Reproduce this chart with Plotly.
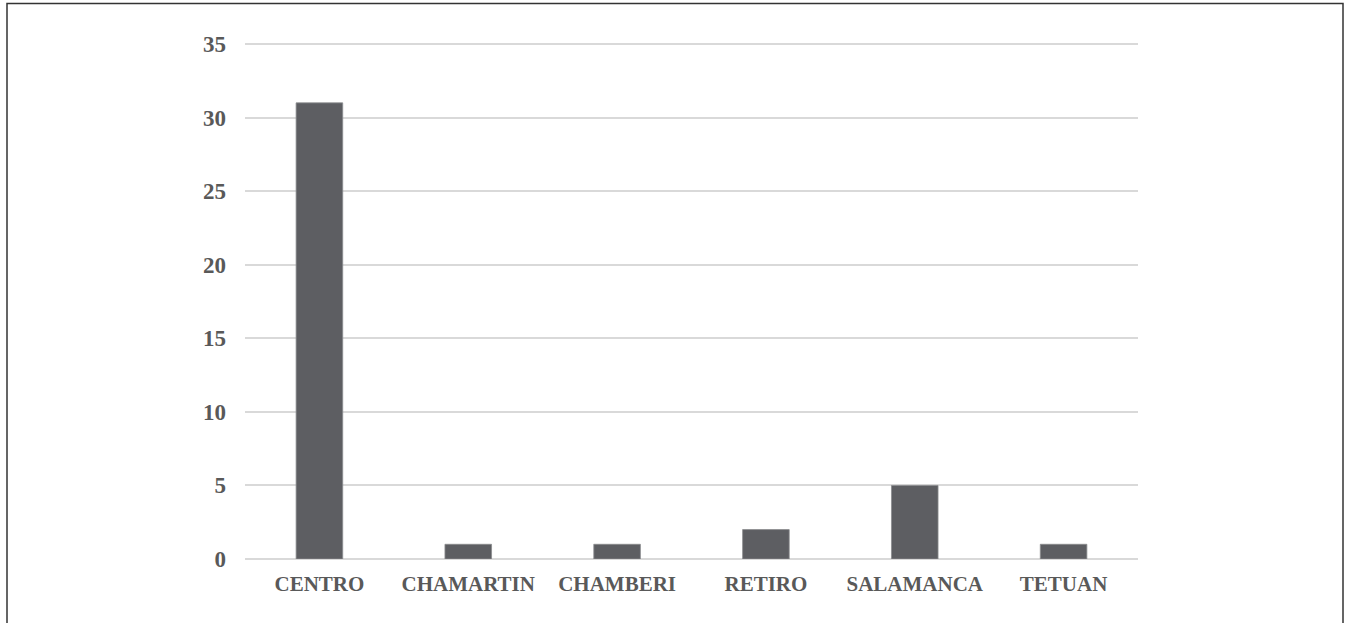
import plotly.graph_objects as go

categories = ["CENTRO", "CHAMARTIN", "CHAMBERI", "RETIRO", "SALAMANCA", "TETUAN"]
values = [31, 1, 1, 2, 5, 1]
y_ticks = [0, 5, 10, 15, 20, 25, 30, 35]

W, H = 1346, 623
L, R, T, B = 245, 208, 41, 64
pw, ph = W - L - R, H - T - B
y_top = 35 * ph / 515.0

fig = go.Figure(go.Bar(
    x=categories, y=values,
    marker=dict(color="#5d5e62", line=dict(color="#8a8b8e", width=0.8)),
    width=0.313,
))

fig.update_layout(
    width=W, height=H,
    margin=dict(l=L, r=R, t=T, b=B),
    plot_bgcolor="white", paper_bgcolor="white",
    showlegend=False,
    font=dict(family="Liberation Serif", size=21, color="#595959"),
    xaxis=dict(showgrid=False, showline=False, ticks="",
               tickfont=dict(family="Liberation Serif", size=21, color="#595959", weight="bold"),
               ticklabelstandoff=10),
    yaxis=dict(range=[0, y_top], tickvals=y_ticks, showgrid=True, gridcolor="#d9d9d9", gridwidth=1.5,
               zeroline=True, zerolinecolor="#d9d9d9", zerolinewidth=1.5, showline=False,
               tickfont=dict(family="Liberation Serif", size=23, color="#595959", weight="bold"),
               ticklabelstandoff=18),
    shapes=[dict(type="rect", xref="paper", yref="paper",
                 x0=(7 - L) / pw, x1=(1343 - L) / pw,
                 y0=(H - B - 640) / ph, y1=(H - B - 3.5) / ph,
                 line=dict(color="#333333", width=1.5), layer="below")],
)

fig.write_html("out.html", config={"displayModeBar": False},
               post_script="document.body.style.margin='0';document.body.style.overflow='hidden';")
